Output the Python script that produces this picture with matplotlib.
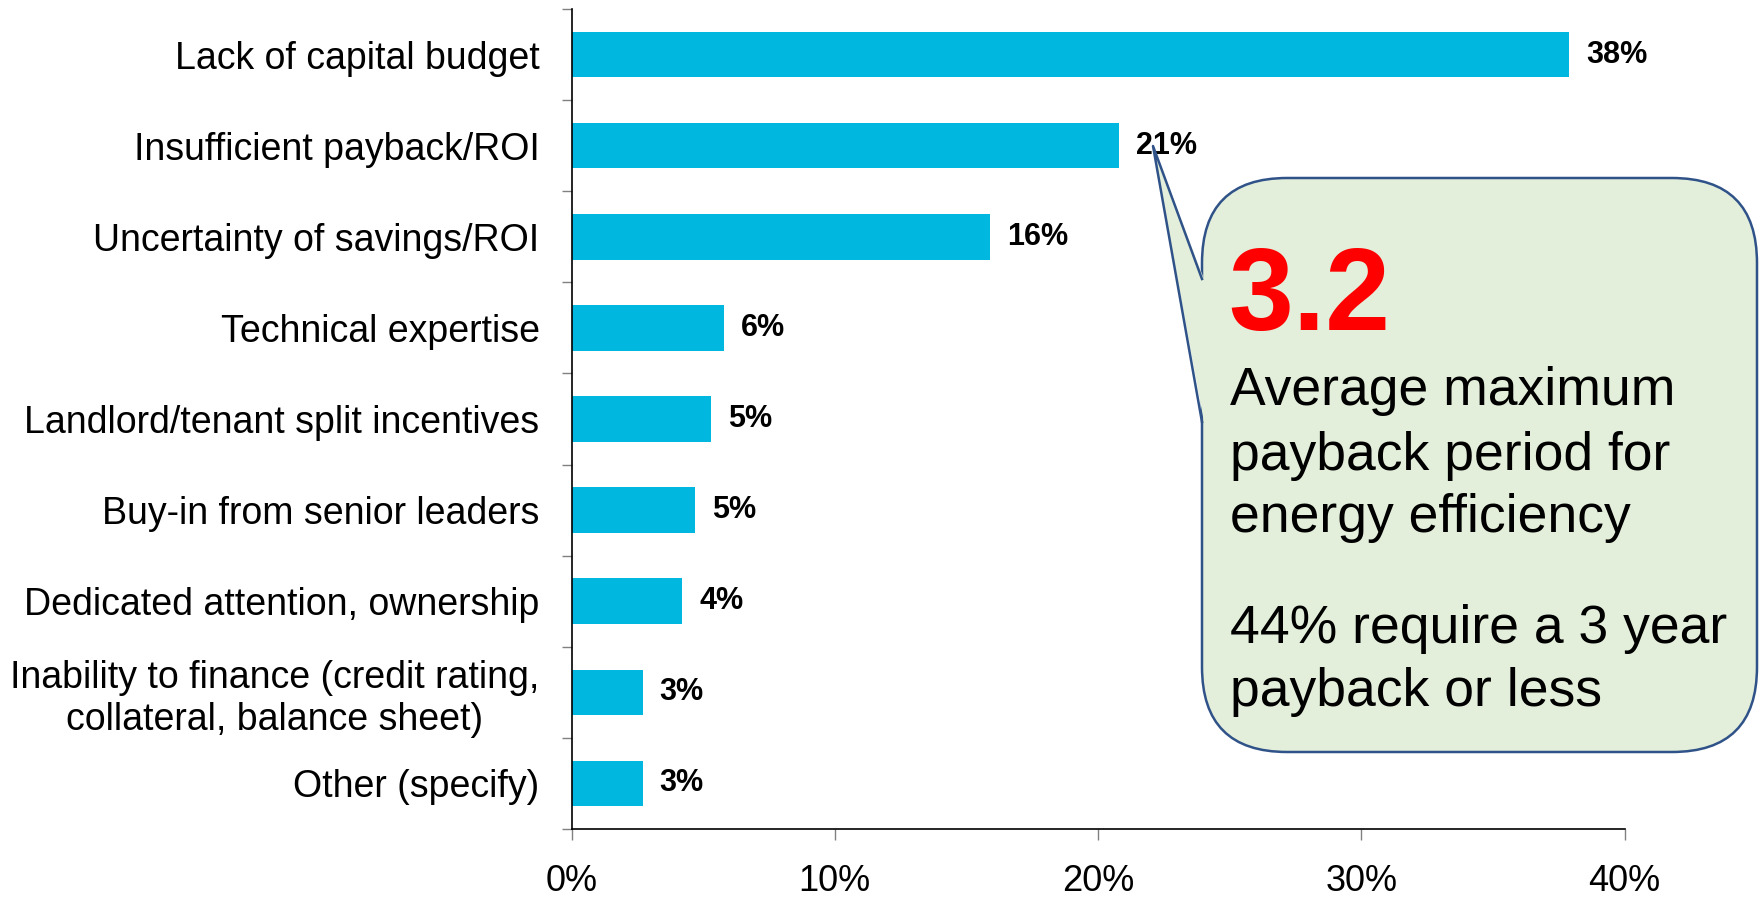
import matplotlib.pyplot as plt
from matplotlib.patches import FancyBboxPatch, Polygon

plt.rcParams['font.family'] = ['Liberation Sans', 'DejaVu Sans']

categories = ['Lack of capital budget', 'Insufficient payback/ROI',
              'Uncertainty of savings/ROI', 'Technical expertise',
              'Landlord/tenant split incentives', 'Buy-in from senior leaders',
              'Dedicated attention, ownership',
              'Inability to finance (credit rating,\ncollateral, balance sheet)',
              'Other (specify)']
values = [37.9, 20.8, 15.9, 5.8, 5.3, 4.7, 4.2, 2.7, 2.7]
value_labels = ['38%', '21%', '16%', '6%', '5%', '5%', '4%', '3%', '3%']
xticks = [0, 10, 20, 30, 40]

callout_big = '3.2'
callout_lines = ['Average maximum', 'payback period for', 'energy efficiency',
                 '44% require a 3 year', 'payback or less']
callout_baselines = [405, 470, 532, 643, 706]

W, H = 1764, 899
fig = plt.figure(figsize=(W / 100, H / 100), dpi=100)
ax = fig.add_axes([571.5 / W, 1 - 829 / H, (1624.5 - 571.5) / W, (829 - 9) / H])

ypos = list(range(len(categories)))
ax.barh(ypos, values, height=0.5, color='#00B7DF')
for y, v, lab in zip(ypos, values, value_labels):
    ax.text(v + 0.65, y, lab, va='center', ha='left', fontsize=22, fontweight='bold')

ax.set_xlim(0, 40)
ax.set_ylim(len(categories) - 0.5, -0.5)
ax.set_xticks(xticks)
ax.set_xticklabels([f'{t}%' for t in xticks], fontsize=26)
ax.tick_params(axis='x', length=8, width=1, color='#808080', pad=17)

# boundary ticks without labels, labels at bar centres
ax.set_yticks([i - 0.5 for i in range(len(categories) + 1)])
ax.set_yticklabels([])
ax.set_yticks(ypos, minor=True)
ax.set_yticklabels(categories, minor=True, fontsize=27, multialignment='center')
ax.tick_params(axis='y', which='major', length=7, width=1, color='#808080')
ax.tick_params(axis='y', which='minor', length=0, pad=23)

for s in ['top', 'right']:
    ax.spines[s].set_visible(False)
ax.spines['left'].set_linewidth(1.2)
ax.spines['bottom'].set_linewidth(1.2)

# callout overlay in pixel coordinates
ov = fig.add_axes([0, 0, 1, 1])
ov.set_xlim(0, W)
ov.set_ylim(0, H)
ov.axis('off')

fill = '#E3EFDA'
edge = '#2F5289'
bx0, by0, bx1, by1 = 1202, 178, 1757, 752
box = FancyBboxPatch((bx0, H - by1), bx1 - bx0, by1 - by0,
                     boxstyle='round,pad=0,rounding_size=85',
                     facecolor=fill, edgecolor=edge, linewidth=1.8)
ov.add_patch(box)
tip = (1153, H - 146)
b1 = (bx0, H - 279)
b2 = (bx0, H - 422)
ov.add_patch(Polygon([tip, (b1[0] + 2, b1[1]), (b2[0] + 2, b2[1])], closed=True,
                     facecolor=fill, edgecolor='none', zorder=3))
ov.plot([b1[0], tip[0], b2[0]], [b1[1], tip[1], b2[1]], color=edge, lw=1.8, zorder=4)

ov.text(1228, H - 330, callout_big, color='#FF0000', fontsize=84, fontweight='bold',
        va='baseline', ha='left', zorder=5)
for line, yb in zip(callout_lines, callout_baselines):
    ov.text(1230, H - yb, line, fontsize=38.5, va='baseline', ha='left', zorder=5)

fig.savefig('out.png', dpi=100)
